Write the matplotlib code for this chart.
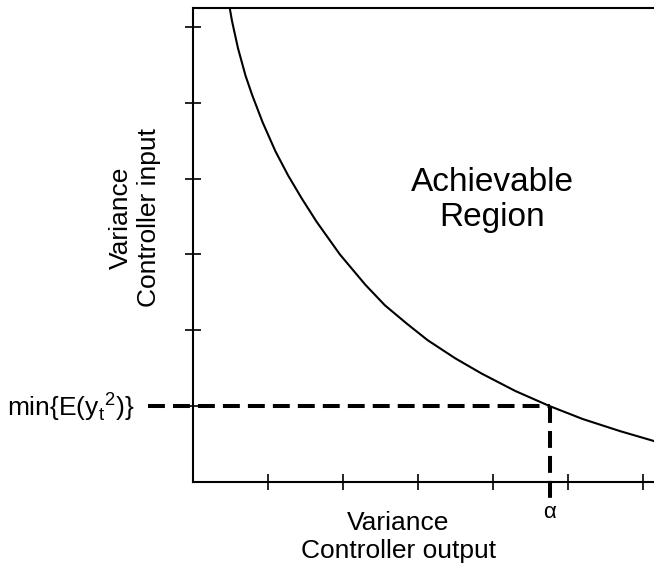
import matplotlib.pyplot as plt

plt.rcParams['font.family'] = ['Liberation Sans', 'DejaVu Sans']

# curve (x: controller output variance, y: controller input variance)
curve_x = [0.49, 0.52, 0.60, 0.70, 0.79, 0.93, 1.10, 1.27, 1.45, 1.65, 1.96,
           2.30, 2.56, 2.85, 3.13, 3.50, 3.85, 4.30, 4.76, 5.20, 5.70, 6.15]
curve_y = [6.25, 6.08, 5.72, 5.36, 5.10, 4.74, 4.36, 4.04, 3.74, 3.43, 3.00,
           2.60, 2.33, 2.09, 1.87, 1.63, 1.43, 1.20, 1.00, 0.83, 0.67, 0.54]
ticks = [1, 2, 3, 4, 5, 6]
alpha_x = 4.76
min_y = 1.0

fig = plt.figure(figsize=(6.54, 5.70), dpi=100)
ax = fig.add_axes([193 / 654, 88 / 570, 1 - 193 / 654, 474 / 570])

ax.plot(curve_x, curve_y, color='black', lw=1.5, solid_joinstyle='round')

# dashed guide lines to the optimum point
dash = (0, (4.2, 2))
ax.plot([-0.6, alpha_x], [min_y, min_y], color='black', lw=2.9, ls=dash, clip_on=False)
ax.plot([alpha_x, alpha_x], [min_y, -0.24], color='black', lw=2.9, ls=dash, clip_on=False)

ax.set_xlim(0, 6.15)
ax.set_ylim(0, 6.25)
ax.set_xticks(ticks)
ax.set_yticks(ticks)
ax.set_xticklabels([])
ax.set_yticklabels([])
ax.tick_params(direction='inout', length=11.5, width=1.2, color='black')
ax.spines['right'].set_visible(False)
for s in ['left', 'bottom', 'top']:
    ax.spines[s].set_linewidth(1.5)

ax.text(3.99, 3.72, 'Achievable\nRegion', ha='center', va='center', fontsize=24, linespacing=1.15)
ax.text(alpha_x, -0.4, 'α', ha='center', va='center', fontsize=16)
ax.text(-0.78, min_y, r'min{E(y$_\mathregular{t}$$^\mathregular{2}$)}', ha='right', va='center',
        fontsize=19)

ax.text(0.445, -0.116, 'Variance\nController output', transform=ax.transAxes,
        ha='center', va='center', fontsize=19, linespacing=1.25)
ax.text(-0.126, 0.557, 'Variance\nController input', transform=ax.transAxes, rotation=90,
        ha='center', va='center', fontsize=19, linespacing=1.25)

fig.savefig('out.png', dpi=100)
